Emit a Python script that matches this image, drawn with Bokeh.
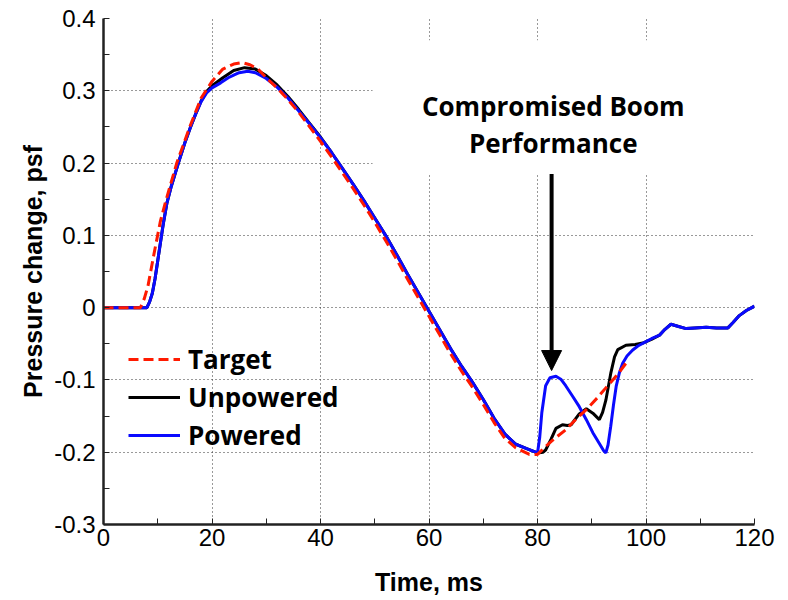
from bokeh.plotting import figure
from bokeh.models import (FixedTicker, CustomJSTickFormatter, Legend, LegendItem,
                          Label, Arrow, NormalHead, BoxAnnotation, Range1d)
from bokeh.embed import file_html
from bokeh.resources import INLINE

# ---------------- data ----------------
target_t = [0, 6.8, 7.5, 8.2, 9.3, 10.5, 11.5, 13.5, 16, 18, 20, 22, 24, 25.5, 27, 28.5, 30,
            32, 34, 36, 38, 40, 42, 44, 46, 48, 50, 52, 54, 56, 58, 60, 62, 64, 66, 68, 70,
            72, 74, 76, 78.5, 80, 81.5, 83, 85.2, 87, 89, 91, 92.6, 94, 95.1, 96.6]
target_p = [0, 0, 0.012, 0.03, 0.074, 0.12, 0.148, 0.2, 0.252, 0.29, 0.313, 0.33, 0.337, 0.339,
            0.336, 0.33, 0.318, 0.304, 0.288, 0.27, 0.25, 0.23, 0.209, 0.187, 0.165, 0.142,
            0.118, 0.093, 0.067, 0.04, 0.014, -0.012, -0.038, -0.064, -0.088, -0.11, -0.134,
            -0.159, -0.181, -0.194, -0.203, -0.203, -0.192, -0.182, -0.169, -0.155, -0.141,
            -0.125, -0.111, -0.099, -0.089, -0.074]

unpowered_t = [0, 8.0, 8.5, 9.0, 9.5, 10.0, 10.5, 11.0, 11.7, 12.5, 13.8, 15, 16, 17, 18, 19,
               20, 22, 24, 26, 28, 30, 32, 34, 36, 38, 40, 42, 44, 46, 48, 50, 52, 54, 56, 58,
               60, 62, 64, 66, 68, 70, 72, 74, 76, 78, 80, 81, 81.5, 82.5, 83.4, 84.6, 85.5,
               86.2, 87, 87.7, 89, 90.2, 91.4, 92, 92.6, 93.5, 94.2, 94.8, 96.3, 98, 99.4, 101,
               102.5, 103.5, 104.6, 106, 107.4, 109, 111.1, 113, 115.1, 116, 117.2, 118.5, 120]
unpowered_p = [0, 0, 0.008, 0.02, 0.04, 0.065, 0.09, 0.115, 0.145, 0.168, 0.2, 0.228, 0.249,
               0.268, 0.286, 0.299, 0.307, 0.318, 0.328, 0.332, 0.330, 0.321, 0.308, 0.292,
               0.274, 0.255, 0.236, 0.215, 0.193, 0.171, 0.148, 0.124, 0.1, 0.074, 0.047, 0.021,
               -0.005, -0.031, -0.057, -0.081, -0.103, -0.127, -0.153, -0.175, -0.189, -0.195,
               -0.201, -0.2, -0.197, -0.182, -0.167, -0.162, -0.163, -0.162, -0.154, -0.147,
               -0.14, -0.146, -0.155, -0.145, -0.128, -0.091, -0.068, -0.058, -0.052, -0.051,
               -0.049, -0.044, -0.038, -0.03, -0.023, -0.026, -0.029, -0.028, -0.027, -0.028,
               -0.028, -0.021, -0.011, -0.004, 0.002]

powered_t = [0, 8.0, 8.5, 9.0, 9.5, 10.0, 10.5, 11.0, 11.7, 12.5, 13.8, 15, 16, 17, 18, 19,
             20, 21.6, 23, 24.1, 25, 26.6, 28, 30, 32, 34, 36, 38, 40, 42, 44, 46, 48, 50, 52,
             54, 56, 58, 60, 62, 64, 66, 68, 70, 72, 74, 76, 78, 80, 80.4, 80.8, 81.5, 82.3,
             83.4, 84.3, 85.2, 86.5, 87.7, 89, 90.2, 91.4, 92.2, 92.6, 93.0, 93.5, 94, 94.5,
             95.1, 95.7, 96.5, 97.5, 98.5, 100, 101, 102.5, 103.5, 104.6, 106, 107.4, 109,
             111.1, 113, 115.1, 116, 117.2, 118.5, 120]
powered_p = [0, 0, 0.008, 0.02, 0.04, 0.065, 0.09, 0.115, 0.145, 0.168, 0.2, 0.228, 0.249,
             0.268, 0.285, 0.297, 0.304, 0.311, 0.318, 0.322, 0.325, 0.327, 0.325, 0.317,
             0.305, 0.29, 0.272, 0.254, 0.235, 0.215, 0.193, 0.171, 0.148, 0.124, 0.1, 0.074,
             0.047, 0.021, -0.005, -0.031, -0.057, -0.081, -0.103, -0.127, -0.153, -0.175,
             -0.189, -0.195, -0.201, -0.18, -0.145, -0.108, -0.097, -0.095, -0.099, -0.108,
             -0.123, -0.137, -0.155, -0.173, -0.188, -0.198, -0.201, -0.19, -0.164, -0.135,
             -0.109, -0.09, -0.077, -0.067, -0.059, -0.053, -0.047, -0.043, -0.038, -0.03,
             -0.023, -0.026, -0.029, -0.028, -0.027, -0.028, -0.028, -0.021, -0.011, -0.004,
             0.002]

x_ticks = [0, 20, 40, 60, 80, 100, 120]
x_minor = [10, 30, 50, 70, 90, 110]
y_ticks = [-0.3, -0.2, -0.1, 0, 0.1, 0.2, 0.3, 0.4]
y_minor = [-0.25, -0.15, -0.05, 0.05, 0.15, 0.25, 0.35]

annot_lines = ["Compromised Boom", "Performance"]
annot_x = 82.9
annot_y = [0.279, 0.228]
arrow_x = 82.6
arrow_y = (0.185, -0.087)
box_lrbt = (49.6, 120, 0.186, 0.37)

# ---------------- figure ----------------
p = figure(width=788, height=600, x_range=Range1d(0, 120), y_range=Range1d(-0.3, 0.4),
           output_backend="svg", toolbar_location=None,
           min_border_left=103, min_border_right=34, min_border_top=18, min_border_bottom=76)
p.outline_line_color = None
p.background_fill_color = "white"
p.border_fill_color = "white"

for ax in (p.xaxis[0], p.yaxis[0]):
    ax.axis_line_width = 2.5
    ax.axis_line_color = "#222222"
    ax.major_tick_in = 6
    ax.major_tick_out = 0
    ax.minor_tick_in = 6
    ax.minor_tick_out = 0
    ax.major_tick_line_color = "#222222"
    ax.minor_tick_line_color = "#222222"
    ax.major_label_text_font = "Liberation Sans"
    ax.major_label_text_font_size = "24px"
    ax.major_label_text_color = "black"
    ax.axis_label_text_font = "Liberation Sans"
    ax.axis_label_text_font_size = "25px"
    ax.axis_label_text_font_style = "bold"
    ax.axis_label_text_color = "black"

p.xaxis[0].ticker = FixedTicker(ticks=x_ticks, minor_ticks=x_minor)
p.yaxis[0].ticker = FixedTicker(ticks=y_ticks, minor_ticks=y_minor)
p.yaxis[0].formatter = CustomJSTickFormatter(
    code="return Math.abs(tick) < 1e-9 ? '0' : tick.toFixed(1);")
p.xaxis[0].major_label_standoff = 4
p.yaxis[0].major_label_standoff = 8
p.xaxis[0].axis_label = "Time, ms"
p.yaxis[0].axis_label = "Pressure change, psf"
p.xaxis[0].axis_label_standoff = 19
p.yaxis[0].axis_label_standoff = 4

for g in (p.xgrid[0], p.ygrid[0]):
    g.grid_line_color = "#333333"
    g.grid_line_dash = "1 3"
    g.grid_line_width = 1

# white box behind the annotation text (interrupts the grid)
box = BoxAnnotation(left=box_lrbt[0], right=box_lrbt[1], bottom=box_lrbt[2], top=box_lrbt[3],
                    fill_color="white", fill_alpha=1.0, line_color=None, level="underlay")
p.add_layout(box)

r_unp = p.line(unpowered_t, unpowered_p, line_color="black", line_width=3)
r_pow = p.line(powered_t, powered_p, line_color="#0a0aff", line_width=3)
r_tar = p.line(target_t, target_p, line_color="#ff1a00", line_width=3, line_dash="10 5")

legend = Legend(items=[LegendItem(label="Target", renderers=[r_tar]),
                       LegendItem(label="Unpowered", renderers=[r_unp]),
                       LegendItem(label="Powered", renderers=[r_pow])],
                location=(25, 71))
legend.label_text_font = "Open Sans"
legend.label_text_font_style = "bold"
legend.label_text_font_size = "26px"
legend.label_text_color = "black"
legend.glyph_width = 52
legend.glyph_height = 28
legend.label_standoff = 8
legend.spacing = 2
legend.padding = 0
legend.margin = 0
legend.background_fill_alpha = 0
legend.border_line_color = None
p.add_layout(legend)

for txt, yy in zip(annot_lines, annot_y):
    p.add_layout(Label(x=annot_x, y=yy, text=txt, text_align="center",
                       text_baseline="alphabetic", text_font="Open Sans",
                       text_font_style="bold", text_font_size="26px", text_color="black"))

p.add_layout(Arrow(end=NormalHead(size=20, fill_color="black", line_color="black"),
                   x_start=arrow_x, y_start=arrow_y[0], x_end=arrow_x, y_end=arrow_y[1],
                   line_width=4, line_color="black"))

open("out.html", "w").write(file_html(p, INLINE))
